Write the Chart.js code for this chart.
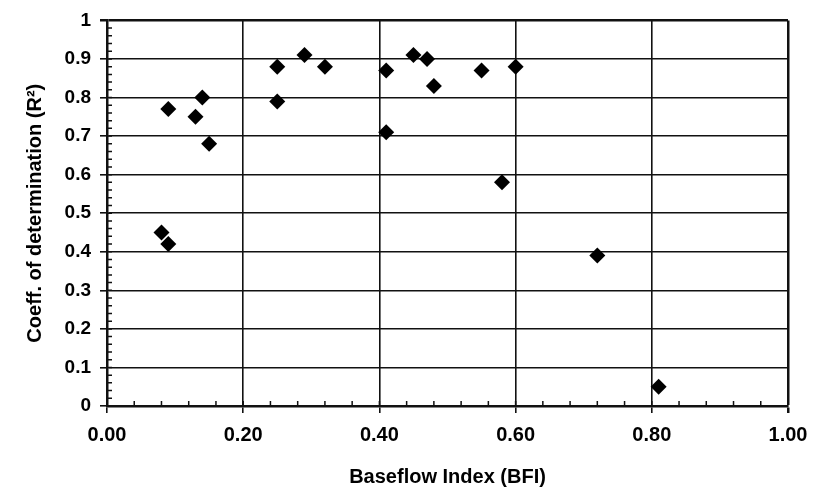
<!DOCTYPE html>
<html>
<head>
<meta charset="utf-8">
<script src="https://cdn.jsdelivr.net/npm/chart.js@4.4.1/dist/chart.umd.min.js"></script>
<style>
    html, body { margin: 0; padding: 0; background: #fff; }
    #wrap { width: 818px; height: 494px; position: relative; }
</style>
</head>
<body>
<div id="wrap"><canvas id="bfiChart"></canvas></div>
<script>
// --- Data ---
const bfiValues = [0.08, 0.09, 0.09, 0.13, 0.14, 0.15, 0.25, 0.25, 0.29, 0.32,
                   0.41, 0.41, 0.45, 0.47, 0.48, 0.55, 0.60, 0.58, 0.72, 0.81];
const r2Values  = [0.45, 0.42, 0.77, 0.75, 0.80, 0.68, 0.88, 0.79, 0.91, 0.88,
                   0.87, 0.71, 0.91, 0.90, 0.83, 0.87, 0.88, 0.58, 0.39, 0.05];

const xTickLabels = ['0.00', '0.20', '0.40', '0.60', '0.80', '1.00'];
const yTickLabels = ['0', '0.1', '0.2', '0.3', '0.4', '0.5', '0.6', '0.7', '0.8', '0.9', '1'];

const xMinorStep = 0.04;
const yMinorStep = 0.02;

const ink = '#111';
const fontFamily = '"Liberation Sans", Arial, Helvetica, sans-serif';

// --- Minor ticks drawn inside the plot frame ---
const minorTicks = {
    id: 'minorTicks',
    afterDatasetsDraw(chart) {
        const { ctx, chartArea, scales: { x, y } } = chart;
        ctx.save();
        ctx.strokeStyle = ink;
        ctx.lineWidth = 1.5;
        ctx.beginPath();
        for (let i = 1; i * xMinorStep < 1; i++) {
            const px = x.getPixelForValue(i * xMinorStep);
            ctx.moveTo(px, chartArea.bottom);
            ctx.lineTo(px, chartArea.bottom - 5);
        }
        for (let i = 1; i * yMinorStep < 1; i++) {
            const py = y.getPixelForValue(i * yMinorStep);
            ctx.moveTo(chartArea.left, py);
            ctx.lineTo(chartArea.left + 5, py);
        }
        ctx.stroke();
        ctx.restore();
    }
};

const points = bfiValues.map((v, i) => ({ x: v, y: r2Values[i] }));

new Chart(document.getElementById('bfiChart'), {
    type: 'scatter',
    data: {
        datasets: [{
            label: 'R2 vs BFI',
            data: points,
            pointStyle: 'rectRot',
            pointRadius: 8,
            pointHoverRadius: 8,
            backgroundColor: '#000',
            borderColor: '#000',
            borderWidth: 0
        }]
    },
    options: {
        responsive: true,
        maintainAspectRatio: false,
        animation: false,
        events: [],
        layout: {
            padding: { left: 0, right: 30, top: 12, bottom: 0 }
        },
        plugins: {
            legend: { display: false },
            tooltip: { enabled: false }
        },
        scales: {
            x: {
                type: 'linear',
                min: 0,
                max: 1,
                afterFit(scale) { scale.height = 88; },
                ticks: {
                    stepSize: 0.2,
                    padding: 10,
                    color: '#000',
                    maxRotation: 0,
                    font: { family: fontFamily, size: 20, weight: 'bold' },
                    callback: (v, i) => xTickLabels[i]
                },
                grid: {
                    color: ink,
                    lineWidth: (c) => (c.index === 5 ? 2.5 : 1.6),
                    tickLength: 7,
                    tickColor: ink
                },
                border: { display: true, color: ink, width: 2.5 },
                title: {
                    display: true,
                    text: 'Baseflow Index (BFI)',
                    color: '#000',
                    font: { family: fontFamily, size: 20, weight: 'bold', lineHeight: 1.2 },
                    padding: { top: 0, bottom: 5 }
                }
            },
            y: {
                min: 0,
                max: 1,
                afterFit(scale) { scale.width = 107; },
                ticks: {
                    stepSize: 0.1,
                    padding: 9,
                    color: '#000',
                    font: { family: fontFamily, size: 19, weight: 'bold' },
                    callback: (v, i) => yTickLabels[i]
                },
                grid: {
                    color: ink,
                    lineWidth: (c) => (c.index === 10 ? 2.5 : 1.6),
                    tickLength: 7,
                    tickColor: ink
                },
                border: { display: true, color: ink, width: 2.5 },
                title: {
                    display: true,
                    text: 'Coeff. of determination (R²)',
                    color: '#000',
                    font: { family: fontFamily, size: 20, weight: 'bold', lineHeight: 1.2 },
                    padding: { top: 23, bottom: 0 }
                }
            }
        }
    },
    plugins: [minorTicks]
});
</script>
</body>
</html>
